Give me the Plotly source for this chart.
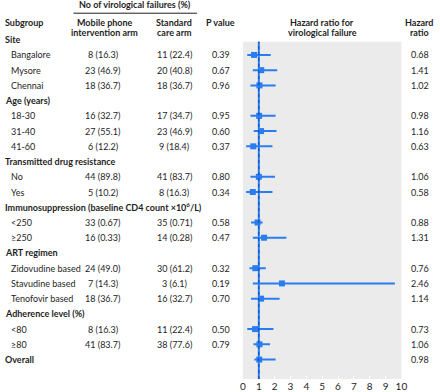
import plotly.graph_objects as go

# ---------------- data ----------------
subgroups = ["Site", "Bangalore", "Mysore", "Chennai",
             "Age (years)", "18-30", "31-40", "41-60",
             "Transmitted drug resistance", "No", "Yes",
             "Immunosuppression (baseline CD4 count ×10<sup>6</sup>/L)", "<250", "≥250",
             "ART regimen", "Zidovudine based", "Stavudine based", "Tenofovir based",
             "Adherence level (%)", "<80", "≥80",
             "Overall"]
is_header = [True, False, False, False,
             True, False, False, False,
             True, False, False,
             True, False, False,
             True, False, False, False,
             True, False, False,
             True]
mobile_arm = ["", "8 (16.3)", "23 (46.9)", "18 (36.7)",
              "", "16 (32.7)", "27 (55.1)", "6 (12.2)",
              "", "44 (89.8)", "5 (10.2)",
              "", "33 (0.67)", "16 (0.33)",
              "", "24 (49.0)", "7 (14.3)", "18 (36.7)",
              "", "8 (16.3)", "41 (83.7)",
              ""]
standard_arm = ["", "11 (22.4)", "20 (40.8)", "18 (36.7)",
                "", "17 (34.7)", "23 (46.9)", "9 (18.4)",
                "", "41 (83.7)", "8 (16.3)",
                "", "35 (0.71)", "14 (0.28)",
                "", "30 (61.2)", "3 (6.1)", "16 (32.7)",
                "", "11 (22.4)", "38 (77.6)",
                ""]
p_values = ["", "0.39", "0.67", "0.96",
            "", "0.95", "0.60", "0.37",
            "", "0.80", "0.34",
            "", "0.58", "0.47",
            "", "0.32", "0.19", "0.70",
            "", "0.50", "0.79",
            ""]
hr_text = ["", "0.68", "1.41", "1.02",
           "", "0.98", "1.16", "0.63",
           "", "1.06", "0.58",
           "", "0.88", "1.31",
           "", "0.76", "2.46", "1.14",
           "", "0.73", "1.06",
           "0.98"]
# plotted estimates and confidence limits
hr_point = [None, 0.70, 1.15, 1.04,
            None, 1.02, 1.14, 0.65,
            None, 1.00, 0.62,
            None, 0.92, 1.33,
            None, 0.78, 2.46, 1.14,
            None, 0.76, 1.04,
            1.03]
ci_low = [None, 0.27, 0.62, 0.47,
          None, 0.47, 0.68, 0.20,
          None, 0.47, 0.20,
          None, 0.51, 0.62,
          None, 0.41, 0.62, 0.51,
          None, 0.27, 0.66,
          0.72]
ci_high = [None, 1.75, 2.16, 2.06,
           None, 2.06, 2.12, 1.86,
           None, 2.02, 1.86,
           None, 1.24, 2.74,
           None, 1.44, 9.59, 2.31,
           None, 1.92, 1.71,
           2.06]
x_ticks = list(range(0, 11))
NULL_HR = 1

# ---------------- styling ----------------
W, H = 440, 392
FONT = "Lato, sans-serif"
TXT = "#1e1e1e"
BLUE = "rgb(40,125,240)"
FS = 9

# row r sits at pixel ROW0 + STEP*r ; panel spans pixels PTOP..PBOT
ROW0, STEP = 40.0, 15.35
PTOP, PBOT = 42.0, 382.0
y_top = (PTOP - ROW0) / STEP
y_bot = (PBOT - ROW0) / STEP


def px(x):
    return x / W


def py(y):
    return 1 - y / H


def prow(r):
    return py(ROW0 + STEP * r)


rows = list(range(len(subgroups)))
pts_y = [r for r, v in zip(rows, hr_point) if v is not None]
pts_x = [v for v in hr_point if v is not None]
err_plus = [h - v for v, h in zip(hr_point, ci_high) if v is not None]
err_minus = [v - l for v, l in zip(hr_point, ci_low) if v is not None]

fig = go.Figure()
fig.add_trace(go.Scatter(
    x=pts_x, y=pts_y, mode="markers",
    marker=dict(symbol="square", size=6, color=BLUE),
    error_x=dict(type="data", array=err_plus, arrayminus=err_minus,
                 thickness=2, width=0, color=BLUE),
    showlegend=False, hoverinfo="skip", cliponaxis=False))

ann = []


def t(x, y, text, bold=False, anchor="center", size=FS):
    if bold:
        text = "<b>" + text + "</b>"
    ann.append(dict(x=x, y=y, xref="paper", yref="paper", text=text,
                    showarrow=False, xanchor=anchor, yanchor="middle",
                    font=dict(family=FONT, size=size, color=TXT)))


def esc(s):
    return s.replace("<250", "&lt;250").replace("<80", "&lt;80")


# column headers
t(px(135), py(5), "No of virological failures (%)", bold=True)
t(px(0), py(22.3), "Subgroup", bold=True, anchor="left")
t(px(104), py(22.3), "Mobile phone", bold=True)
t(px(104), py(32.3), "intervention arm", bold=True)
t(px(175), py(22.3), "Standard", bold=True)
t(px(175), py(32.3), "care arm", bold=True)
t(px(222), py(22.3), "P value", bold=True)
t(px(326), py(22.3), "Hazard ratio for", bold=True)
t(px(326), py(32.3), "virological failure", bold=True)
t(px(425), py(22.3), "Hazard", bold=True)
t(px(425), py(32.3), "ratio", bold=True)

for r in rows:
    y = prow(r)
    if is_header[r]:
        t(px(0), y, subgroups[r], bold=True, anchor="left")
    else:
        t(px(6), y, esc(subgroups[r]), anchor="left")
    if mobile_arm[r]:
        t(px(102), y, mobile_arm[r])
    if standard_arm[r]:
        t(px(175), y, standard_arm[r])
    if p_values[r]:
        t(px(223), y, p_values[r])
    if hr_text[r]:
        t(px(425.5), y, hr_text[r])

shapes = [
    dict(type="line", xref="paper", yref="paper", x0=px(72), x1=px(198),
         y0=py(13.3), y1=py(13.3), line=dict(color=TXT, width=1)),
    dict(type="line", xref="x", yref="y domain", x0=NULL_HR, x1=NULL_HR,
         y0=0, y1=1, line=dict(color=BLUE, width=2)),
    dict(type="line", xref="x", yref="y domain", x0=NULL_HR, x1=NULL_HR,
         y0=0, y1=1, line=dict(color="rgb(20,70,170)", width=1, dash="3px,3px")),
]

fig.update_layout(
    width=W, height=H, margin=dict(l=0, r=0, t=0, b=0),
    paper_bgcolor="white", plot_bgcolor="#ebebeb",
    annotations=ann, shapes=shapes,
    xaxis=dict(domain=[px(245), px(406.7)], range=[0, 10],
               tickvals=x_ticks, ticktext=[str(v) for v in x_ticks],
               showgrid=False, zeroline=False, showline=False,
               ticks="inside", ticklen=3, tickcolor="white",
               tickfont=dict(family=FONT, size=FS + 1, color=TXT),
               fixedrange=True),
    yaxis=dict(domain=[1 - PBOT / H, 1 - PTOP / H], range=[y_bot, y_top],
               showgrid=False, zeroline=False, showline=False,
               showticklabels=False, ticks="", fixedrange=True),
)

fig.write_html("out.html", config={"displayModeBar": False},
               post_script="document.body.style.margin='0';document.body.style.overflow='hidden';")
